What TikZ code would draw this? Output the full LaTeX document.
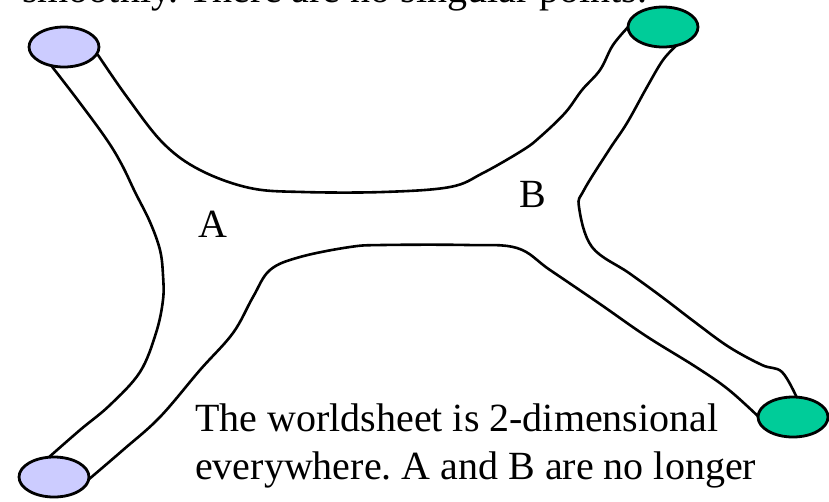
\documentclass[tikz,border=0pt]{standalone}
\usepackage{fontspec}
\setmainfont{Liberation Serif}
\usetikzlibrary{shapes.geometric}
\definecolor{openend}{HTML}{CCCCFF}
\definecolor{closedend}{HTML}{00CC99}
\frenchspacing
\tikzset{
  sheet/.style={line width=2.6pt, line join=round, line cap=round},
  endcap/.style={ellipse, draw, line width=2.8pt, minimum width=70pt, minimum height=40pt, inner sep=0pt},
  bigtext/.style={inner sep=0pt, font=\fontsize{40}{48}\selectfont},
}
\begin{document}
\begin{tikzpicture}[x=1pt, y=-1pt]
  \clip (0,0) rectangle (829,501);
  \fill[white] (0,0) rectangle (829,501);

  % caption running off the top edge
  \node[bigtext, anchor=base west] (topline) at (22,2) {smoothly. There are no singular points.};

  % worldsheet boundary
  \draw[sheet] plot[smooth, tension=0.6] coordinates {
    (50,64) (80,103) (107,140) (122,165) (135,192) (150,222) (160,250)
    (163,275) (163,300) (156,333) (140,372) (110,405) (80,430) (48,458)};
  \draw[sheet] plot[smooth, tension=0.6] coordinates {
    (98,55) (127,97) (163,143) (200,170) (250,188) (303,192) (383,192)
    (450,187) (483,173) (523,150) (540,137) (565,113) (582,90) (600,70)
    (613,45) (630,25)};
  \draw[sheet] plot[smooth, tension=0.6] coordinates {
    (677,45) (663,60) (647,87) (627,123) (609,150) (584,190) (579,207)
    (592,247) (629,273) (662,297) (696,323) (729,347) (762,365) (782,372)
    (797,398)};
  \draw[sheet] plot[smooth, tension=0.6] coordinates {
    (88,480) (123,450) (160,417) (200,370) (233,333) (253,297) (270,270)
    (300,257) (350,247) (383,245) (467,245) (517,248) (550,270)
    (600,304) (646,336) (696,367) (729,390) (762,420)};

  % string ends
  \node[endcap, fill=openend] (inTop) at (64,47) {};
  \node[endcap, fill=openend] (inBot) at (54,477) {};
  \node[endcap, fill=closedend] (outTop) at (663,27) {};
  \node[endcap, fill=closedend] (outBot) at (793,417) {};

  % labels
  \node[bigtext, anchor=base] (ptA) at (213,237) {A};
  \node[bigtext, anchor=base] (ptB) at (533,207) {B};

  % caption
  \node[bigtext, anchor=base west] (capA) at (195,431) {The worldsheet is 2-dimensional};
  \node[bigtext, anchor=base west] (capB) at (195,479) {everywhere. A and B are no longer};
\end{tikzpicture}
\end{document}
